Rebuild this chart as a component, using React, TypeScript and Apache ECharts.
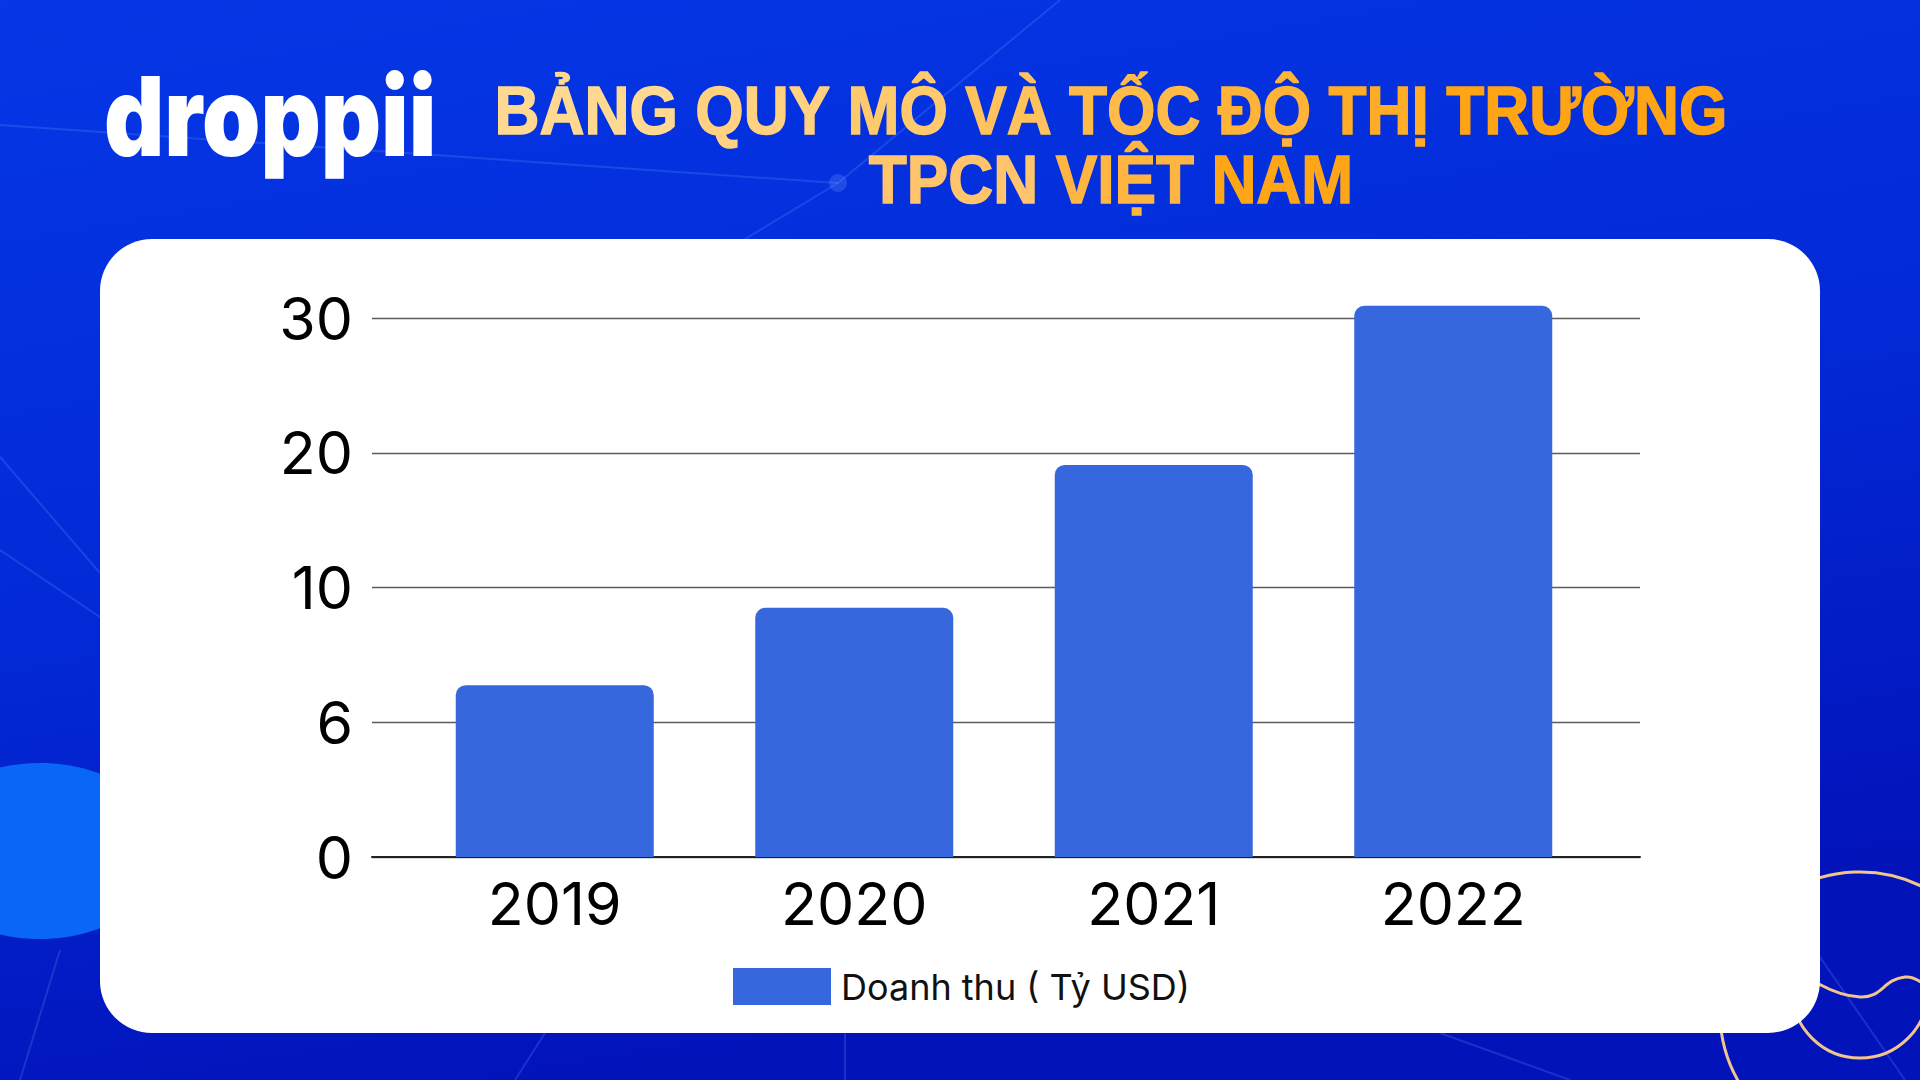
import React, { useEffect, useRef } from "react";
import * as echarts from "echarts";

const categories = ["2019", "2020", "2021", "2022"];
const revenue = [7.1, 9.4, 19.1, 30.9];
const tickValues = [0, 6, 10, 20, 30];
const seriesName = "Doanh thu ( Tỷ USD)";
const titleWords1 = ["BẢNG", "QUY", "MÔ", "VÀ", "TỐC", "ĐỘ", "THỊ", "TRƯỜNG"];
const titleWords2 = ["TPCN", "VIỆT", "NAM"];
const brand = "droppii";

// piecewise mapping of a value onto the evenly spaced tick positions
function toAxis(v: number): number {
  for (let i = 1; i < tickValues.length; i++) {
    if (v <= tickValues[i]) {
      return i - 1 + (v - tickValues[i - 1]) / (tickValues[i] - tickValues[i - 1]);
    }
  }
  const n = tickValues.length - 1;
  return n + (v - tickValues[n]) / (tickValues[n] - tickValues[n - 1]);
}

const mix = (a: number[], b: number[], t: number) =>
  "rgb(" + a.map((c, i) => Math.round(c + (b[i] - c) * t)).join(",") + ")";

function richTitle(words: string[], from: number[], to: number[]) {
  const rich: any = {};
  const parts: string[] = [];
  words.forEach((w, i) => {
    const t = words.length > 1 ? i / (words.length - 1) : 0;
    const c = mix(from, to, t);
    rich["w" + i] = {
      fill: c,
      stroke: c,
      lineWidth: 1.5,
      fontFamily: "Liberation Sans",
      fontWeight: "bold",
      fontSize: 68,
    };
    parts.push("{w" + i + "|" + w + "}");
  });
  return { text: parts.join("{sp| }"), rich };
}

export default function App() {
  const ref = useRef<HTMLDivElement>(null);
  useEffect(() => {
    if (!ref.current) return;
    const chart = echarts.init(ref.current, undefined, { renderer: "svg" });
    const faint = "rgba(110,160,255,0.22)";
    const gold = "#F3C58C";
    const t1 = richTitle(titleWords1, [255, 217, 146], [255, 164, 20]);
    const t2 = richTitle(titleWords2, [255, 196, 108], [255, 166, 24]);
    const spStyle = { fontFamily: "Liberation Sans", fontWeight: "bold", fontSize: 68 };
    const line = (pts: number[][]) => ({
      type: "polyline",
      z: -5,
      silent: true,
      shape: { points: pts },
      style: { stroke: faint, lineWidth: 2, fill: null },
    });
    const option: any = {
      animation: false,
      backgroundColor: new echarts.graphic.LinearGradient(0, 0, 0.3, 1, [
        { offset: 0, color: "#0537E6" },
        { offset: 0.55, color: "#0329D6" },
        { offset: 1, color: "#0213BA" },
      ]),
      graphic: [
        line([[0, 125], [838, 183]]),
        line([[838, 183], [1060, 0]]),
        line([[838, 183], [745, 239]]),
        line([[0, 457], [100, 573]]),
        line([[0, 550], [100, 617]]),
        line([[515, 1080], [545, 1033]]),
        line([[845, 1033], [845, 1080]]),
        line([[1440, 1033], [1570, 1080]]),
        line([[1815, 950], [1905, 1080]]),
        line([[20, 1080], [60, 950]]),
        {
          type: "circle",
          z: -5,
          silent: true,
          shape: { cx: 838, cy: 183, r: 9 },
          style: { fill: "rgba(110,160,255,0.25)" },
        },
        {
          type: "ellipse",
          z: -5,
          silent: true,
          shape: { cx: 40, cy: 851, rx: 125, ry: 88 },
          style: { fill: "#0A66F6" },
        },
        {
          type: "circle",
          z: -4,
          silent: true,
          shape: { cx: 1860, cy: 1012, r: 140 },
          style: { fill: null, stroke: gold, lineWidth: 3 },
        },
        {
          type: "arc",
          z: -4,
          silent: true,
          shape: { cx: 1860, cy: 990, r: 68, startAngle: 0, endAngle: Math.PI },
          style: { fill: null, stroke: gold, lineWidth: 3 },
        },
        {
          type: "polyline",
          z: -4,
          silent: true,
          shape: {
            points: [[1800, 972], [1860, 997], [1905, 977], [1930, 990]],
            smooth: 0.5,
          },
          style: { fill: null, stroke: gold, lineWidth: 3 },
        },
        {
          type: "rect",
          z: -2,
          silent: true,
          shape: { x: 100, y: 239, width: 1720, height: 794, r: 52 },
          style: { fill: "#ffffff" },
        },
        {
          type: "text",
          z: 10,
          x: 104,
          y: 116,
          scaleX: 0.85,
          style: {
            text: brand,
            fontFamily: "Inter",
            fontWeight: 900,
            fontSize: 110,
            fill: "#ffffff",
            textAlign: "left",
            align: "left",
            textVerticalAlign: "middle",
            verticalAlign: "middle",
          },
        },
        {
          type: "text",
          z: 10,
          x: 1111,
          y: 111,
          scaleX: 0.916,
          style: {
            text: t1.text,
            rich: { ...t1.rich, sp: spStyle },
            fontFamily: "Liberation Sans",
            fontWeight: "bold",
            fontSize: 68,
            fill: "#FFC25E",
            textAlign: "center",
            align: "center",
            textVerticalAlign: "middle",
            verticalAlign: "middle",
          },
        },
        {
          type: "text",
          z: 10,
          x: 1111,
          y: 180,
          scaleX: 0.916,
          style: {
            text: t2.text,
            rich: { ...t2.rich, sp: spStyle },
            fontFamily: "Liberation Sans",
            fontWeight: "bold",
            fontSize: 68,
            fill: "#FFB848",
            textAlign: "center",
            align: "center",
            textVerticalAlign: "middle",
            verticalAlign: "middle",
          },
        },
      ],
      legend: {
        data: [seriesName],
        left: 733,
        top: 968,
        padding: 0,
        itemWidth: 98,
        itemHeight: 37,
        icon: "rect",
        textStyle: { fontSize: 36, color: "#111", fontFamily: "Inter", padding: [0, 0, 0, 5] },
      },
      grid: [
        { left: 372, right: 280, top: 318, bottom: 223 },
        { left: 405, right: 317, top: 318, bottom: 223 },
      ],
      xAxis: [
        {
          gridIndex: 0,
          type: "value",
          min: 0,
          max: 1,
          axisLine: { show: true, lineStyle: { color: "#222", width: 2 } },
          axisTick: { show: false },
          axisLabel: { show: false },
          splitLine: { show: false },
        },
        {
          gridIndex: 1,
          type: "category",
          data: categories,
          axisLine: { show: false },
          axisTick: { show: false },
          axisLabel: { fontSize: 59, color: "#000", fontFamily: "Inter", margin: 17 },
        },
      ],
      yAxis: [
        {
          gridIndex: 0,
          type: "value",
          min: 0,
          max: tickValues.length - 1,
          interval: 1,
          axisLine: { show: false },
          axisTick: { show: false },
          axisLabel: {
            formatter: (v: number) => String(tickValues[Math.round(v)]),
            fontSize: 59,
            color: "#000",
            fontFamily: "Inter",
            margin: 19,
          },
          splitLine: { lineStyle: { color: "#5c5c5c", width: 1.3 } },
        },
        {
          gridIndex: 1,
          type: "value",
          min: 0,
          max: tickValues.length - 1,
          interval: 1,
          show: false,
          splitLine: { show: false },
        },
      ],
      series: [
        {
          name: seriesName,
          type: "bar",
          xAxisIndex: 1,
          yAxisIndex: 1,
          data: revenue.map(toAxis),
          barWidth: 198,
          clip: false,
          itemStyle: { color: "#3767DC", borderRadius: [10, 10, 0, 0] },
        },
      ],
    };
    chart.setOption(option);
    return () => chart.dispose();
  }, []);
  return (
    <div
      ref={ref}
      style={{ position: "fixed", left: 0, top: 0, width: 1920, height: 1080 }}
    />
  );
}
